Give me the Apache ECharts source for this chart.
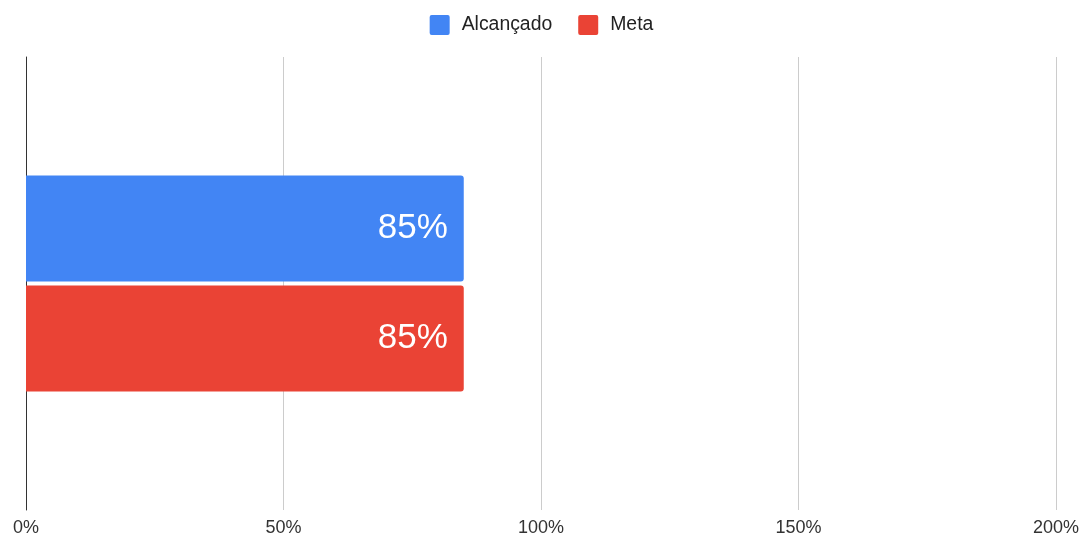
<!DOCTYPE html>
<html>
<head>
<meta charset="utf-8">
<script src="https://cdn.jsdelivr.net/npm/echarts@6/dist/echarts.min.js"></script>
<style>
  html, body { margin: 0; padding: 0; background: #fff; }
  #chart { width: 1083px; height: 537px; }
</style>
</head>
<body>
<div id="chart"></div>
<script>
// Single category, two series (percent values)
const categories = [''];
const alcancado = [85];
const meta = [85];
const seriesNames = ['Alcançado', 'Meta'];
const colors = ['#4285F4', '#EA4335'];
const axisMax = 200;
const axisStep = 50;

const FONT = '"Liberation Sans", Arial, sans-serif';
// small square with slightly rounded corners for the legend markers
const squareIcon = 'path://M2,0H18A2,2,0,0,1,20,2V18A2,2,0,0,1,18,20H2A2,2,0,0,1,0,18V2A2,2,0,0,1,2,0Z';

const chart = echarts.init(document.getElementById('chart'), null, { renderer: 'canvas' });

const labelStyle = {
  show: true,
  position: 'insideRight',
  distance: 16,
  color: '#ffffff',
  fontSize: 35,
  fontFamily: FONT,
  formatter: p => p.value + '%'
};

chart.setOption({
  animation: false,
  textStyle: { fontFamily: FONT },
  legend: {
    data: seriesNames,
    top: 10,
    left: 'center',
    itemWidth: 20,
    itemHeight: 20,
    itemGap: 26,
    icon: squareIcon,
    textStyle: { fontSize: 19.4, color: '#222', fontFamily: FONT, padding: [0, 0, 0, 7] }
  },
  grid: { left: 26, right: 27, top: 57, bottom: 27, containLabel: false },
  xAxis: {
    type: 'value',
    min: 0,
    max: axisMax,
    interval: axisStep,
    axisLine: { show: false },
    axisTick: { show: false },
    splitLine: { show: true, lineStyle: { color: '#cccccc', width: 1 } },
    axisLabel: {
      formatter: v => v + '%',
      fontSize: 18,
      fontFamily: FONT,
      color: '#333',
      margin: 9
    }
  },
  yAxis: {
    type: 'category',
    data: categories,
    inverse: true,
    axisLine: { show: true, lineStyle: { color: '#333', width: 1 } },
    axisTick: { show: false },
    axisLabel: { show: false },
    splitLine: { show: false }
  },
  series: [
    {
      name: seriesNames[0],
      type: 'bar',
      data: alcancado,
      barWidth: 106,
      barGap: '4%',
      itemStyle: { color: colors[0], borderRadius: [0, 3, 3, 0] },
      label: labelStyle
    },
    {
      name: seriesNames[1],
      type: 'bar',
      data: meta,
      barWidth: 106,
      barGap: '4%',
      itemStyle: { color: colors[1], borderRadius: [0, 3, 3, 0] },
      label: labelStyle
    }
  ]
});
</script>
</body>
</html>
